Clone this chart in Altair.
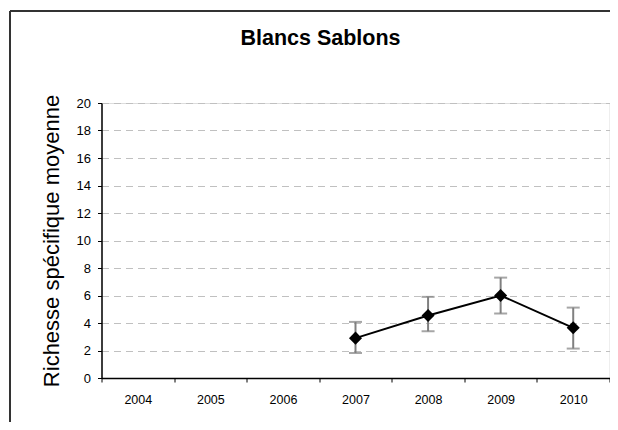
import altair as alt
import pandas as pd

years = ["2004", "2005", "2006", "2007", "2008", "2009", "2010"]
data_years = ["2007", "2008", "2009", "2010"]
mean_vals = [2.9, 4.55, 6.0, 3.65]
upper_vals = [4.08, 5.9, 7.3, 5.12]
lower_vals = [1.82, 3.4, 4.69, 2.14]
y_ticks = [0, 2, 4, 6, 8, 10, 12, 14, 16, 18, 20]

df = pd.DataFrame({"year": data_years, "mean": mean_vals,
                   "upper": upper_vals, "lower": lower_vals})

FONT = "Liberation Sans"

x_enc = alt.X(
    "year:O",
    scale=alt.Scale(type="band", domain=years, paddingInner=0, paddingOuter=0),
    axis=alt.Axis(title=None, labelAngle=0, tickBand="extent", labelFontSize=12.5,
                  labelFont=FONT, labelColor="#000", labelPadding=11, tickSize=4,
                  tickColor="#000", domainColor="#000", domainWidth=1.5, grid=False),
)
y_scale = alt.Scale(domain=[0, 20], nice=False, zero=True)
y_axis = alt.Axis(title="Richesse spécifique moyenne", values=y_ticks, titleFont=FONT,
                  titleFontSize=22, titleFontWeight="normal", titleColor="#000",
                  titlePadding=13, labelFont=FONT, labelFontSize=13, labelColor="#000",
                  labelPadding=7, tickSize=4, tickColor="#000", domainColor="#000",
                  domainWidth=1.5, grid=True, gridColor="#c0c0c0", gridDash=[7, 5],
                  gridWidth=1, labelOverlap=False)


def yenc(field):
    return alt.Y(field, scale=y_scale, axis=y_axis)


base = alt.Chart(df)

err = base.mark_rule(color="#808080", strokeWidth=2).encode(
    x=x_enc, y=yenc("lower:Q"), y2="upper:Q")
cap_hi = base.mark_tick(color="#808080", size=13, thickness=2).encode(
    x=x_enc, y=yenc("upper:Q"))
cap_lo = base.mark_tick(color="#808080", size=13, thickness=2).encode(
    x=x_enc, y=yenc("lower:Q"))
line = base.mark_line(color="#000", strokeWidth=2).encode(
    x=x_enc, y=yenc("mean:Q"))
pts = base.mark_point(shape="diamond", filled=True, color="#000", size=170, opacity=1).encode(
    x=x_enc, y=yenc("mean:Q"))

frame_v = alt.Chart(df).mark_rule(color="#333", strokeWidth=2).encode(
    x=alt.value(-91.5), y=alt.value(-92), y2=alt.value(340))
frame_h = alt.Chart(df).mark_rule(color="#333", strokeWidth=2).encode(
    x=alt.value(-91.5), x2=alt.value(530), y=alt.value(-92))

chart = alt.layer(frame_v, frame_h, err, cap_hi, cap_lo, line, pts).properties(
    width=508, height=275,
    title=alt.TitleParams("Blancs Sablons", font=FONT, fontSize=21.5, fontWeight="bold",
                          color="#000", anchor="middle", dx=-35, offset=0, dy=56,
                          baseline="alphabetic"),
    autosize=alt.AutoSizeParams(type="none"),
    padding={"left": 93.5, "top": 95, "right": 0, "bottom": 44},
).configure_view(stroke="#888", strokeWidth=1.5).configure(background="white")

chart.save("out.html", embed_options={"renderer": "svg", "actions": False})
